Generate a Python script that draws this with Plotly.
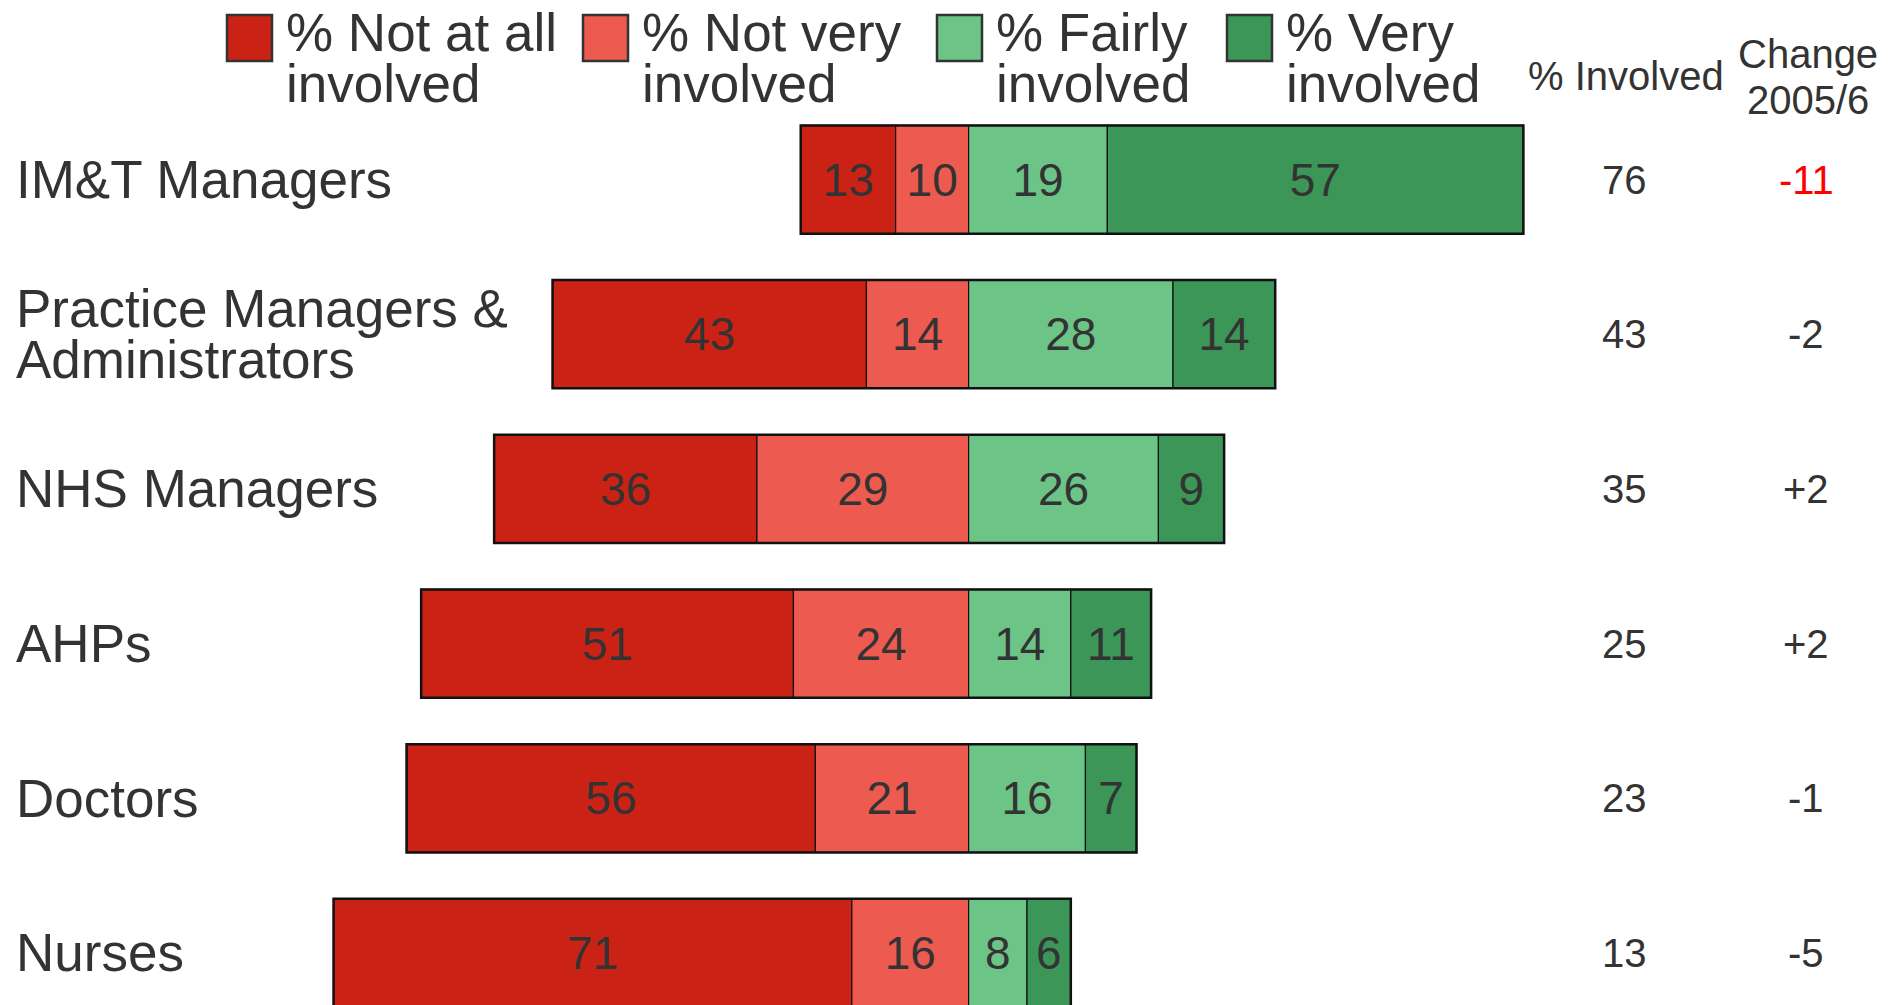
import plotly.graph_objects as go

# survey data, one entry per staff group (top to bottom)
groups = ["IM&T Managers", "Practice Managers &<br>Administrators", "NHS Managers",
          "AHPs", "Doctors", "Nurses"]
not_at_all = [13, 43, 36, 51, 56, 71]
not_very = [10, 14, 29, 24, 21, 16]
fairly = [19, 28, 26, 14, 16, 8]
very = [57, 14, 9, 11, 7, 6]
involved = [76, 43, 35, 25, 23, 13]
change = ["-11", "-2", "+2", "+2", "-1", "-5"]

series_names = ["% Not at all<br>involved", "% Not very<br>involved",
                "% Fairly<br>involved", "% Very<br>involved"]
colors = ["#CB2216", "#EC5A50", "#6CC486", "#3B9657"]
change_colors = ["#FF0000", "#333333", "#333333", "#333333", "#333333", "#333333"]

FONT = "Liberation Sans, Arial, sans-serif"
TXT = "#333333"
W, H = 1903, 1005
OFF = 8  # page body margin


def px_x(p):
    return (p - OFF) / W


def px_y(p):
    return 1 - (p - OFF) / H


y = list(range(len(groups)))

# diverging layout: negatives to the left of zero, positives to the right
bases = [
    [-(a + b) for a, b in zip(not_at_all, not_very)],
    [-b for b in not_very],
    [0] * len(groups),
    [c for c in fairly],
]
values = [not_at_all, not_very, fairly, very]

fig = go.Figure()

for name, col, base, vals in zip(series_names, colors, bases, values):
    fig.add_trace(go.Bar(
        y=y, x=vals, base=base,
        orientation='h',
        name=name.replace("<br>", " "),
        width=0.70,
        marker=dict(color=col, line=dict(color='#111111', width=1.2)),
        text=[str(v) for v in vals],
        textposition='inside',
        insidetextanchor='middle',
        textangle=0,
        textfont=dict(family=FONT, size=46, color=TXT),
        showlegend=False,
    ))

# heavy outline around each whole bar
totals = [a + b + c + d for a, b, c, d in zip(not_at_all, not_very, fairly, very)]
fig.add_trace(go.Bar(
    y=y, x=totals, base=bases[0],
    orientation='h', width=0.70,
    marker=dict(color='rgba(0,0,0,0)', line=dict(color='#111111', width=2.5)),
    showlegend=False, hoverinfo='skip',
))

annotations = []

# group labels on the left
for i, g in enumerate(groups):
    lines = g.split("<br>")
    for k, ln in enumerate(lines):
        shift = 0 if len(lines) == 1 else 26 - 51 * k
        annotations.append(dict(x=px_x(14), xref='paper', y=i, yref='y', text=ln,
                                xanchor='left', yanchor='middle', showarrow=False,
                                yshift=shift,
                                font=dict(family=FONT, size=53, color=TXT)))

# right-hand columns
for i in y:
    annotations.append(dict(x=px_x(1624), xref='paper', y=i, yref='y', text=str(involved[i]),
                            xanchor='center', yanchor='middle', showarrow=False,
                            font=dict(family=FONT, size=40, color=TXT)))
    annotations.append(dict(x=px_x(1806), xref='paper', y=i, yref='y', text=change[i],
                            xanchor='center', yanchor='middle', showarrow=False,
                            font=dict(family=FONT, size=40, color=change_colors[i])))

annotations.append(dict(x=px_x(1626), xref='paper', y=px_y(76), yref='paper', text="% Involved",
                        xanchor='center', yanchor='middle', showarrow=False,
                        font=dict(family=FONT, size=40, color=TXT)))
annotations.append(dict(x=px_x(1808), xref='paper', y=px_y(54), yref='paper', text="Change",
                        xanchor='center', yanchor='middle', showarrow=False,
                        font=dict(family=FONT, size=40, color=TXT)))
annotations.append(dict(x=px_x(1808), xref='paper', y=px_y(100), yref='paper', text="2005/6",
                        xanchor='center', yanchor='middle', showarrow=False,
                        font=dict(family=FONT, size=40, color=TXT)))

# hand-built legend across the top
legend_px = [227, 583, 937, 1227]
shapes = []
for lp, name, col in zip(legend_px, series_names, colors):
    shapes.append(dict(type='rect', xref='paper', yref='paper',
                       x0=px_x(lp), x1=px_x(lp + 45), y0=px_y(61), y1=px_y(15),
                       fillcolor=col, line=dict(color='#333333', width=2.5)))
    for k, ln in enumerate(name.split("<br>")):
        annotations.append(dict(x=px_x(lp + 57), xref='paper', y=px_y(32 + 51 * k), yref='paper',
                                text=ln, xanchor='left', yanchor='middle', showarrow=False,
                                font=dict(family=FONT, size=53, color=TXT)))

# axis ranges chosen so zero sits at x=968 px and rows are 155 px apart
fig.update_layout(
    width=W, height=H,
    barmode='overlay',
    margin=dict(l=0, r=0, t=0, b=0),
    paper_bgcolor='white',
    plot_bgcolor='white',
    xaxis=dict(range=[-131.6, 129.1], visible=False, fixedrange=True),
    yaxis=dict(range=[5.388, -1.109], visible=False, fixedrange=True),
    annotations=annotations,
    shapes=shapes,
    showlegend=False,
)

fig.write_html("out.html")
